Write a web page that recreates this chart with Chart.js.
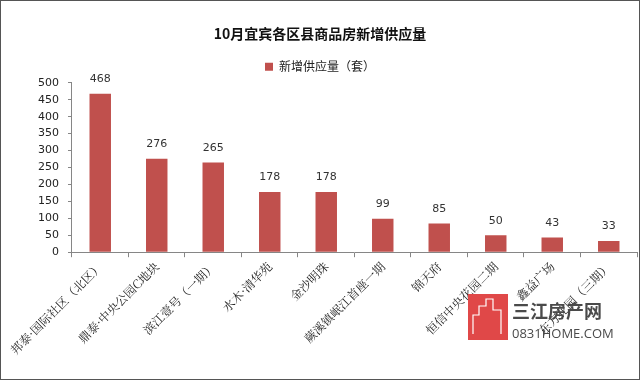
<!DOCTYPE html>
<html>
<head>
<meta charset="utf-8">
<script src="https://cdn.jsdelivr.net/npm/chart.js@4"></script>
<style>
  html, body { margin: 0; padding: 0; background: #fff; }
  #wrap { position: relative; width: 638px; height: 378px; border: 1px solid #555; }
</style>
</head>
<body>
<div id="wrap"><canvas id="c" width="638" height="378"></canvas></div>
<script>
/* 10月宜宾各区县商品房新增供应量 */

const categories = [
  '邦泰·国际社区（北区）',
  '鼎泰·中央公园C地块',
  '滨江壹号（一期）',
  '水木·清华苑',
  '金沙明珠',
  '蕨溪镇岷江首座一期',
  '锦天府',
  '恒信中央花园二期',
  '鑫益广场',
  '东方花园（三期）'
];
const supply   = [468, 276, 265, 178, 178, 99, 85, 50, 43, 33];
const yTicks   = [0, 50, 100, 150, 200, 250, 300, 350, 400, 450, 500];

const barColor = '#c0504d';
const axisGray = '#868686';

// value labels on top of each bar
const valueLabels = {
  id: 'valueLabels',
  afterDatasetsDraw(chart) {
    const ctx = chart.ctx;
    const meta = chart.getDatasetMeta(0);
    ctx.save();
    ctx.font = '11px "DejaVu Sans", sans-serif';
    ctx.fillStyle = '#333';
    ctx.textAlign = 'center';
    ctx.textBaseline = 'bottom';
    meta.data.forEach((bar, i) => {
      ctx.fillText(String(supply[i]), bar.x, bar.y - 9);
    });
    ctx.restore();
  }
};

// site watermark, lower right
const watermark = {
  id: 'watermark',
  afterDraw(chart) {
    const ctx = chart.ctx;
    ctx.save();
    ctx.fillStyle = '#e04848';
    ctx.fillRect(467, 293, 40, 46);
    ctx.strokeStyle = '#fff';
    ctx.lineWidth = 1.2;
    ctx.beginPath();
    ctx.moveTo(472, 333); ctx.lineTo(472, 314); ctx.lineTo(478, 314); ctx.lineTo(478, 305);
    ctx.lineTo(485, 305); ctx.lineTo(485, 298); ctx.lineTo(492, 298); ctx.lineTo(492, 309);
    ctx.lineTo(500, 309); ctx.lineTo(500, 333);
    ctx.stroke();
    ctx.fillStyle = '#4a4a4a';
    ctx.font = 'bold 18px "Noto Sans CJK SC", sans-serif';
    ctx.textBaseline = 'alphabetic';
    ctx.fillText('三江房产网', 511, 317);
    ctx.font = '13px "Open Sans", sans-serif';
    ctx.fillText('0831HOME.COM', 511, 337);
    ctx.restore();
  }
};

new Chart(document.getElementById('c'), {
  type: 'bar',
  data: {
    labels: categories,
    datasets: [{
      label: '新增供应量（套）',
      data: supply,
      backgroundColor: barColor,
      borderWidth: 0,
      categoryPercentage: 1,
      barPercentage: 0.38
    }]
  },
  options: {
    responsive: false,
    animation: false,
    layout: { padding: { top: 18, right: 2, bottom: 20, left: 2 } },
    plugins: {
      title: {
        display: true,
        text: '10月宜宾各区县商品房新增供应量',
        color: '#111',
        font: { family: '"Noto Sans CJK SC", sans-serif', size: 14, weight: 'bold' },
        padding: { top: 6, bottom: 14 }
      },
      legend: {
        position: 'top',
        labels: {
          color: '#222',
          font: { family: '"Noto Sans CJK SC", sans-serif', size: 12 },
          boxWidth: 8,
          boxHeight: 8,
          padding: 5
        }
      },
      tooltip: { enabled: false }
    },
    scales: {
      x: {
        grid: {
          offset: true,
          drawOnChartArea: false,
          drawTicks: true,
          tickLength: 5,
          color: axisGray
        },
        border: { color: axisGray },
        ticks: {
          autoSkip: false,
          minRotation: 45,
          maxRotation: 45,
          color: '#222',
          font: { family: '"Noto Serif CJK SC", "Noto Sans CJK SC", serif', size: 12 },
          padding: 2
        },
        afterFit(scale) { scale.paddingLeft = 0; scale.paddingRight = 0; }
      },
      y: {
        min: 0,
        max: 500,
        afterBuildTicks(scale) { scale.ticks = yTicks.map(v => ({ value: v })); },
        afterFit(scale) { scale.width += 26; },
        grid: {
          drawOnChartArea: false,
          drawTicks: true,
          tickLength: 4,
          color: axisGray
        },
        border: { color: axisGray },
        ticks: {
          color: '#222',
          font: { family: '"DejaVu Sans", sans-serif', size: 11 },
          padding: 9
        }
      }
    }
  },
  plugins: [valueLabels, watermark]
});
</script>
</body>
</html>
